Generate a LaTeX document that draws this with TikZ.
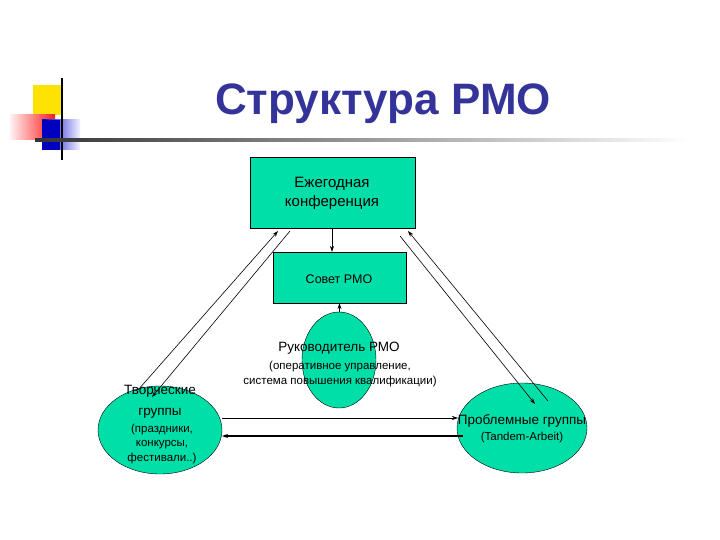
\documentclass[tikz,border=0pt]{standalone}
\usepackage{fontspec}
\setmainfont{Liberation Sans}
\usetikzlibrary{shapes.geometric,arrows.meta}
\definecolor{teal1}{HTML}{00DFA8}
\definecolor{navy}{HTML}{333399}
\begin{document}
\begin{tikzpicture}[x=1pt,y=-1pt,
  box/.style={draw=black,fill=teal1,inner sep=0pt},
  ell/.style={draw=black,fill=teal1,ellipse,inner sep=0pt},
  lab/.style={align=center},
  arr/.style={-{Stealth[length=6pt,width=4pt]},line width=0.6pt}]
\useasboundingbox (0,0) rectangle (720,540);
% decoration
\fill[yellow!85!orange] (33,85) rectangle (62,115);
\shade[left color=red!5,right color=red!90] (10,115) rectangle (55,140);
\shade[left color=blue!80!black,right color=blue!5] (42,120) rectangle (80,150);
\fill[blue!75!black] (42,120) rectangle (60,150);
\draw[line width=1.2pt] (62,78) -- (62,160);
\shade[left color=black!80,right color=white] (35,139) rectangle (690,141.5);
\node[font=\bfseries\fontsize{44}{48}\selectfont,text=navy] (title) at (383,104) {Структура РМО};
% nodes
\node[box,minimum width=165,minimum height=71] (conf) at (332.5,192.5) {};
\node[lab,font=\fontsize{15}{19}\selectfont] at (332,193) {Ежегодная\\конференция};
\node[box,minimum width=133,minimum height=51] (sov) at (339.5,277.5) {};
\node[lab,font=\fontsize{12.5}{15}\selectfont] at (339,279) {Совет РМО};
\node[ell,minimum width=74,minimum height=96] (ruk) at (339,360) {};
\node[lab,font=\fontsize{13.5}{16}\selectfont] at (339,348) {Руководитель РМО};
\node[lab,font=\fontsize{11.5}{14.5}\selectfont] at (340,374) {(оперативное управление,\\система повышения квалификации)};
\node[ell,minimum width=124,minimum height=88] (tv) at (160,430) {};
\node[lab,font=\fontsize{13.5}{16}\selectfont] at (160,391) {Творческие};
\node[lab,font=\fontsize{13.5}{16}\selectfont] at (160,413) {группы};
\node[lab,font=\fontsize{11.5}{14.5}\selectfont] at (162,444) {(праздники,\\конкурсы,\\фестивали..)};
\node[ell,minimum width=130,minimum height=90] (pr) at (522,428) {};
\node[lab,font=\fontsize{13.5}{16}\selectfont] at (522,421) {Проблемные группы};
\node[lab,font=\fontsize{11.5}{14}\selectfont] at (522,438) {(Tandem-Arbeit)};
% connectors
\coordinate (a1) at (332,229); \coordinate (a2) at (332,251);
\draw[arr] (conf.south -| a1) -- (sov.north -| a2);
\draw[arr] (ruk.north -| sov) -- (sov.south);
\coordinate (l1) at (138,390); \coordinate (l2) at (278,231);
\coordinate (l3) at (290,231); \coordinate (l4) at (152,397);
\draw[arr] (l1) -- (l2);
\draw[arr] (l3) -- (l4);
\coordinate (r1) at (400,236); \coordinate (r2) at (535,404);
\coordinate (r3) at (548,401); \coordinate (r4) at (408,231);
\draw[arr] (r1) -- (r2);
\draw[arr] (r3) -- (r4);
\coordinate (h1) at (222,418); \coordinate (h2) at (458,418);
\coordinate (h3) at (463,436); \coordinate (h4) at (222,436);
\draw[arr] (h1) -- (h2);
\draw[arr,line width=1.4pt] (h3) -- (h4);
\end{tikzpicture}
\end{document}
